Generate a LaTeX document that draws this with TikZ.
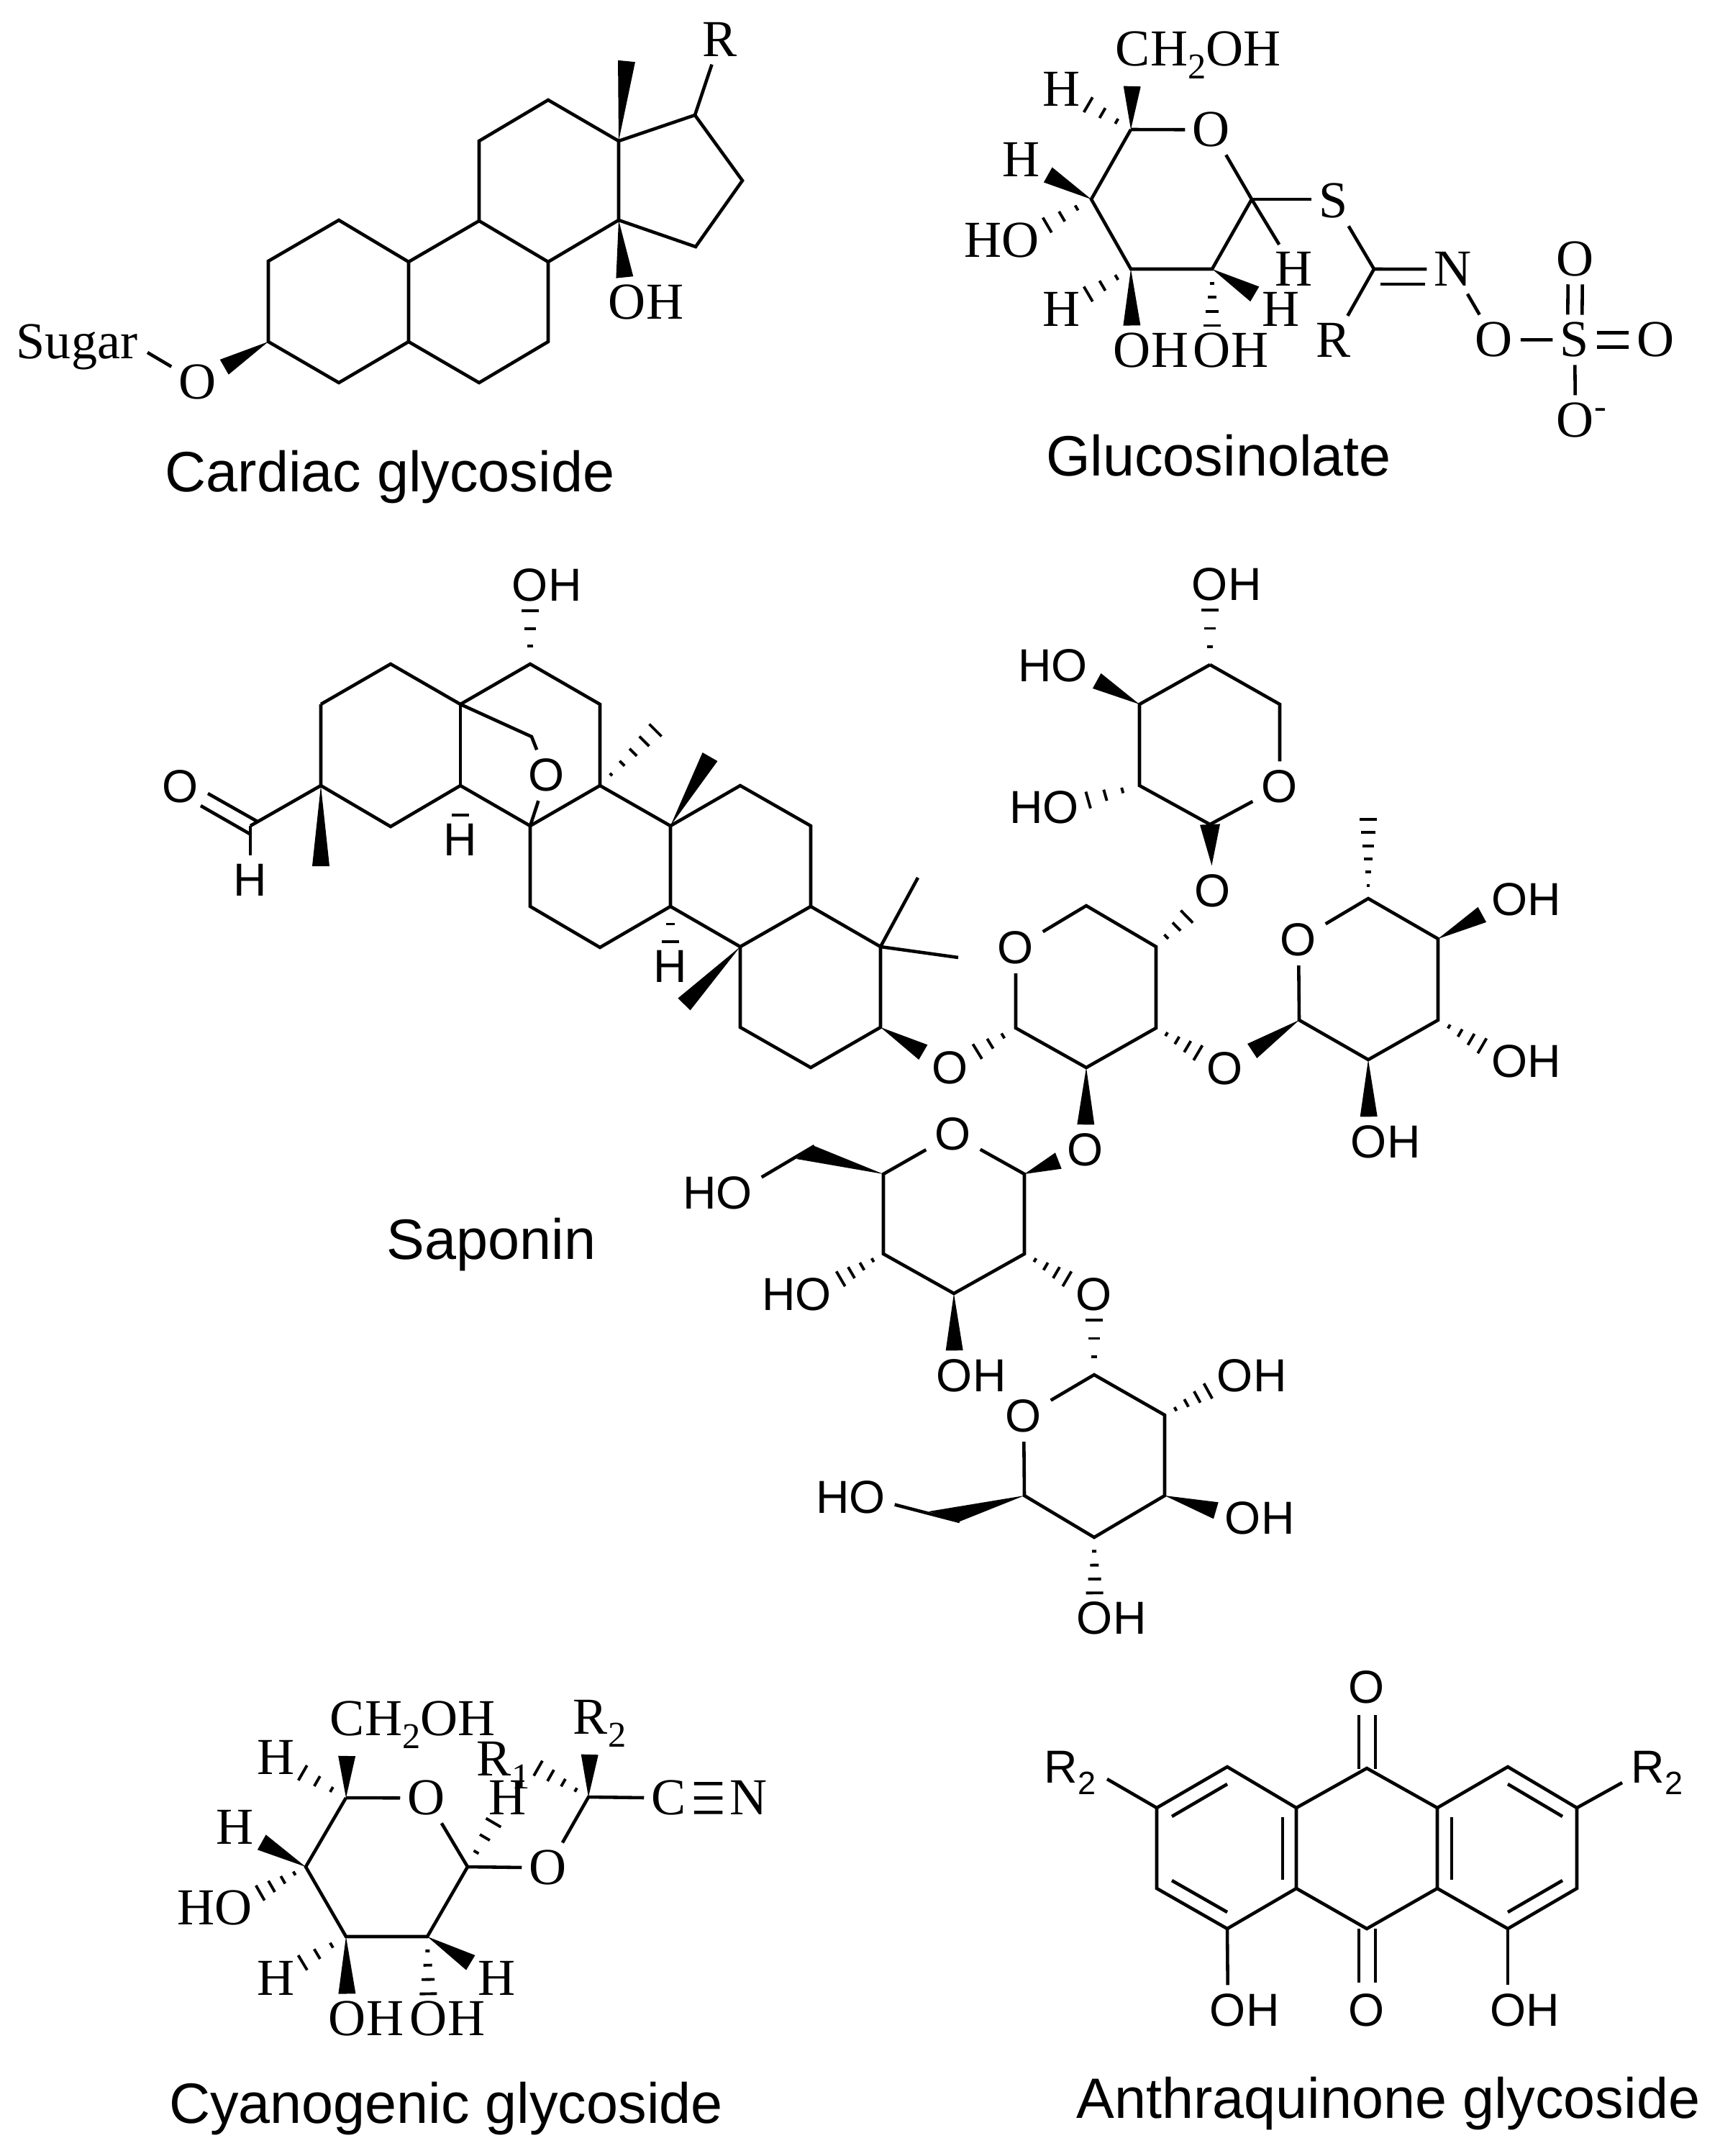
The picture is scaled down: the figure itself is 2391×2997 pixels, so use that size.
\documentclass[tikz,border=0pt]{standalone}
\usepackage{fontspec}
\setmainfont{Liberation Sans}
\newfontfamily\srf{Liberation Serif}
\usetikzlibrary{calc}
\tikzset{
  bnd/.style={line width=1.3pt,line join=miter,line cap=butt},
  hashline/.style={line width=1.1pt},
  slab/.style={font=\srf\fontsize{20.5}{24}\selectfont,inner sep=2.85pt,anchor=base,yshift=-6.8pt},
  alab/.style={font=\fontsize{18.3}{21}\selectfont,inner sep=3.4pt,anchor=base,yshift=-6.5pt},
  capt/.style={font=\fontsize{22.5}{26}\selectfont,inner sep=0pt,anchor=base}
}
\newcommand\sbs[1]{\raisebox{-.24em}{\scalebox{.7}{#1}}}
\newcommand\atoms[1]{\foreach \n/\x/\y in {#1}{\coordinate (\n) at (\x,\y);}}
\newcommand\wdg[3][12]{%
  \path (#2) -- (#3) coordinate[pos=0] (ws) coordinate[pos=1] (we);
  \fill (ws) -- ($(we)!#1*0.2845pt!90:(ws)$) -- ($(we)!#1*0.2845pt!-90:(ws)$) -- cycle;}
\newcommand\hsh[3][3]{%
  \path (#2) -- (#3) coordinate[pos=0] (ws) coordinate[pos=1] (we);
  \foreach \i in {1,...,#1}{%
    \pgfmathsetmacro\tt{\i/#1}%
    \pgfmathsetmacro\hw{12*\tt*0.2845}%
    \draw[hashline] ($(ws)!\tt!(we)!\hw pt!90:(ws)$) -- ($(ws)!\tt!(we)!\hw pt!-90:(ws)$);
  }}
\newcommand\dbl[3][10]{%
  \path (#2) -- (#3) coordinate[pos=0] (ws) coordinate[pos=1] (we);
  \draw[bnd] ($(ws)!#1*0.2845pt!90:(we)$) -- ($(we)!#1*0.2845pt!-90:(ws)$);
  \draw[bnd] ($(ws)!#1*0.2845pt!-90:(we)$) -- ($(we)!#1*0.2845pt!90:(ws)$);}
\begin{document}
\begin{tikzpicture}[x=0.01cm,y=-0.01cm]
\useasboundingbox (0,0) rectangle (2391,2997);
\fill[white] (0,0) rectangle (2391,2997);

% ---------- Cardiac glycoside ----------
\atoms{sa1/373/363,sa2/471/306,sa3/568/364,sa4/568/475,sa5/471/532,sa6/373/475,
  sb1/666/307,sb2/762/364,sb3/762/475,sb4/666/532,
  sc1/666/196,sc2/762/139,sc3/860/196,sc4/860/306,
  sd1/966/160,sd2/1032/251,sd3/967/343,sm/871/85,sugE/205/490}
\draw[bnd] (sa1) -- (sa2) -- (sa3) -- (sa4) -- (sa5) -- (sa6) -- cycle;
\draw[bnd] (sa3) -- (sb1) -- (sb2) -- (sb3) -- (sb4) -- (sa4);
\draw[bnd] (sb1) -- (sc1) -- (sc2) -- (sc3) -- (sc4) -- (sb2);
\draw[bnd] (sc3) -- (sd1) -- (sd2) -- (sd3) -- (sc4);
\node[slab] (sR) at (1001,55) {R};
\node[slab] (sOH) at (872,420) {O\rlap{H}};
\node[slab] (sO) at (275,531) {O};
\node[slab,inner sep=0pt] (sug) at (107,475) {Sugar};
\draw[bnd] (sd1) -- (sR);
\draw[bnd] (sugE) -- (sO);
\wdg{sc3}{sm}
\wdg{sc4}{sOH}
\wdg{sa6}{sO}
\node[capt] (capC) at (542,683) {Cardiac glycoside};

% ---------- Glucosinolate ----------
\atoms{gc5/1572/180,gc1/1740/277,gc2/1685/374,gc3/1572/374,gc4/1517/277,
  gt/1910/374,gdA/1919/395,gdB/1981/395}
\node[slab] (gO) at (1684,180) {O};
\node[slab] (gCH) at (1575,68) {C\rlap{H\sbs{2}OH}};
\node[slab] (gH1) at (1476,124) {H};
\node[slab] (gH2) at (1420,222) {H};
\node[slab] (gHO) at (1419,334) {\llap{H}O};
\node[slab] (gH3) at (1476,430) {H};
\node[slab] (gOH1) at (1574,487) {O\rlap{H}};
\node[slab] (gOH2) at (1685,487) {O\rlap{H}};
\node[slab] (gH4) at (1781,430) {H};
\node[slab] (gH5) at (1799,374) {H};
\node[slab] (gS) at (1854,279) {S};
\node[slab] (gN) at (2020,374) {N};
\node[slab] (gR) at (1854,473) {R};
\node[slab] (gO2) at (2077,472) {O};
\node[slab] (gS2) at (2189,472) {S};
\node[slab] (gO3) at (2301,472) {O};
\node[slab] (gO4) at (2190,360) {O};
\node[slab] (gO5) at (2190,584) {O\rlap{\textsuperscript{-}}};
\draw[bnd] (gc5) -- (gO) -- (gc1) -- (gc2) -- (gc3) -- (gc4) -- (gc5);
\draw[bnd] (gc1) -- (gH5);
\draw[bnd] (gc1) -- (gc1 -| gS.west);
\draw[bnd] (gS) -- (gt) -- (gN);
\draw[bnd] (gdA) -- (gdB);
\draw[bnd] (gt) -- (gR);
\draw[bnd] (gN) -- (gO2) -- (gS2);
\draw[bnd] (gS2) -- (gO5);
\dbl{gS2}{gO3}
\dbl{gS2}{gO4}
\wdg{gc5}{gCH}
\hsh{gc5}{gH1}
\wdg{gc4}{gH2}
\hsh{gc4}{gHO}
\hsh{gc3}{gH3}
\wdg{gc3}{gOH1}
\hsh[4]{gc2}{gOH2}
\wdg{gc2}{gH4}
\node[capt] (capG) at (1694,661) {Glucosinolate};

% ---------- Saponin aglycone ----------
\atoms{a1/446/979,a2/543/923,a3/640/979,a4/737/923,a5/834/979,a6/834/1092,a7/737/1148,
  a8/640/1092,a9/543/1149,a10/446/1092,a11/348/1148,
  brg/739/1024,dA1/358/1142,dA2/289/1103,dB1/347/1159,dB2/279/1120,
  am1/446/1204,am2/911/1015,
  b1/932/1148,b2/1029/1092,b3/1127/1148,b4/1127/1260,b5/1029/1316,b6/932/1260,b7/834/1317,b8/737/1260,
  bm1/987/1052,bm2/951/1396,
  c1/1029/1428,c2/1127/1484,c3/1224/1428,c4/1224/1316,cm1/1276/1220,cm2/1332/1331}
\draw[bnd] (a1) -- (a2) -- (a3) -- (a4) -- (a5) -- (a6) -- (a7);
\draw[bnd] (a1) -- (a10) -- (a9) -- (a8) -- (a7);
\draw[bnd] (a3) -- (a8);
\draw[bnd] (a10) -- (a11);
\draw[bnd] (a6) -- (b1) -- (b2) -- (b3) -- (b4) -- (b5) -- (b6) -- (b1);
\draw[bnd] (b6) -- (b7) -- (b8) -- (a7);
\draw[bnd] (b5) -- (c1) -- (c2) -- (c3) -- (c4) -- (b4);
\draw[bnd] (c4) -- (cm1);
\draw[bnd] (c4) -- (cm2);
\node[alab] (aOH) at (737,813) {O\rlap{H}};
\node[alab] (aO1) at (251,1093) {O};
\node[alab] (aH1) at (348,1223) {H};
\node[alab] (aH2) at (640,1167) {H};
\node[alab] (aO2) at (760,1077) {O};
\node[alab] (aH3) at (932,1343) {H};
\node[alab] (aO3) at (1321,1484) {O};
\draw[bnd] (a3) -- (brg) -- (aO2) -- (a7);
\draw[bnd] (dA1) -- (dA2);
\draw[bnd] (dB1) -- (dB2);
\draw[bnd] (a11) -- (aH1);
\hsh{a4}{aOH}
\wdg{a10}{am1}
\hsh[1]{a8}{aH2}
\hsh[5]{a6}{am2}
\wdg{b1}{bm1}
\hsh[2]{b6}{aH3}
\wdg{b5}{bm2}
\wdg{c3}{aO3}

% ---------- Upper sugar ----------
\atoms{e1/1682/924,e2/1779/979,e4/1682/1146,e5/1584/1092,e6/1584/979}
\node[alab] (eO) at (1779,1093) {O};
\node[alab] (eOH) at (1682,812) {O\rlap{H}};
\node[alab] (eHO1) at (1487,925) {\llap{H}O};
\node[alab] (eHO2) at (1475,1122) {\llap{H}O};
\node[alab] (eO2) at (1686,1238) {O};
\draw[bnd] (e1) -- (e2) -- (eO) -- (e4) -- (e5) -- (e6) -- (e1);
\hsh{e1}{eOH}
\wdg{e6}{eHO1}
\hsh{e5}{eHO2}
\wdg[14]{eO2}{e4}

% ---------- Middle sugar ----------
\atoms{d1/1412/1429,d2/1510/1484,d3/1607/1429,d4/1607/1316,d5/1510/1259}
\node[alab] (dO) at (1412,1317) {O};
\node[alab] (dO2) at (1703,1485) {O};
\node[alab] (dO3) at (1509,1598) {O};
\draw[bnd] (dO) -- (d1) -- (d2) -- (d3) -- (d4) -- (d5) -- (dO);
\hsh{d1}{aO3}
\hsh{d4}{eO2}
\hsh[4]{d3}{dO2}
\wdg{d2}{dO3}

% ---------- Right sugar ----------
\atoms{f1/1902/1249,f2/1999/1305,f3/1999/1418,f4/1902/1473,f5/1806/1418,fm/1902/1139}
\node[alab] (fO) at (1805,1306) {O};
\node[alab] (fOH1) at (2098,1250) {O\rlap{H}};
\node[alab] (fOH2) at (2098,1475) {O\rlap{H}};
\node[alab] (fOH3) at (1903,1587) {O\rlap{H}};
\draw[bnd] (fO) -- (f1) -- (f2) -- (f3) -- (f4) -- (f5) -- (fO);
\hsh[6]{f1}{fm}
\wdg{f2}{fOH1}
\hsh[4]{f3}{fOH2}
\wdg{f4}{fOH3}
\wdg{f5}{dO2}

% ---------- Lower-left sugar ----------
\atoms{k1/1424/1632,k2/1424/1743,k3/1326/1798,k4/1228/1743,k5/1228/1632,kp1/1132/1593,kp2/1107/1611}
\node[alab] (kO) at (1325,1576) {O};
\node[alab] (kHO1) at (1021,1658) {\llap{H}O};
\node[alab] (kHO2) at (1131,1799) {\llap{H}O};
\node[alab] (kOH) at (1327,1912) {O\rlap{H}};
\node[alab] (kO2) at (1521,1799) {O};
\draw[bnd] (kO) -- (k1) -- (k2) -- (k3) -- (k4) -- (k5) -- (kO);
\draw[bnd] (kp1) -- (kHO1);
\fill (k5) -- (kp1) -- (kp2) -- cycle;
\wdg{k1}{dO3}
\hsh[4]{k4}{kHO2}
\wdg{k3}{kOH}
\hsh[4]{k2}{kO2}

% ---------- Bottom sugar ----------
\atoms{h1/1521/1911,h2/1619/1967,h3/1619/2079,h4/1521/2137,h5/1424/2079,hp1/1334/2115,hp2/1291/2101}
\node[alab] (hO) at (1423,1968) {O};
\node[alab] (hOH1) at (1717,1912) {O\rlap{H}};
\node[alab] (hOH2) at (1728,2110) {O\rlap{H}};
\node[alab] (hOH3) at (1522,2249) {O\rlap{H}};
\node[alab] (hHO) at (1206,2081) {\llap{H}O};
\draw[bnd] (hO) -- (h1) -- (h2) -- (h3) -- (h4) -- (h5) -- (hO);
\draw[bnd] (hp1) -- (hHO);
\fill (h5) -- (hp1) -- (hp2) -- cycle;
\hsh{h1}{kO2}
\hsh[4]{h2}{hOH1}
\wdg{h3}{hOH2}
\hsh[4]{h4}{hOH3}
\node[capt] (capS) at (683,1750) {Saponin};

% ---------- Cyanogenic glycoside ----------
\atoms{i1/481/2499,i2/650/2595,i3/594/2692,i4/481/2692,i5/425/2595,j1/818/2498,jR/748/2458}
\node[slab] (iO) at (593,2499) {O};
\node[slab] (iCH) at (483,2389) {C\rlap{H\sbs{2}OH}};
\node[slab] (iH1) at (384,2443) {H};
\node[slab] (iH2) at (327,2540) {H};
\node[slab] (iHO) at (325,2652) {\llap{H}O};
\node[slab] (iH3) at (384,2750) {H};
\node[slab] (iOH1) at (483,2806) {O\rlap{H}};
\node[slab] (iOH2) at (596,2806) {O\rlap{H}};
\node[slab] (iH4) at (691,2750) {H};
\node[slab] (iH5) at (706,2499) {H};
\node[slab] (iR1) at (687,2445) {R\rlap{\sbs{1}}};
\node[slab] (iR2) at (821,2387) {R\rlap{\sbs{2}}};
\node[slab] (iO2) at (762,2596) {O};
\node[slab] (iC) at (930,2499) {C};
\node[slab] (iN) at (1041,2499) {N};
\draw[bnd] (i1) -- (iO) -- (i2) -- (i3) -- (i4) -- (i5) -- (i1);
\draw[bnd] (i2) -- (iO2) -- (j1) -- (iC);
\draw[bnd] (iC) -- (iN);
\dbl[20]{iC}{iN}
\wdg{i1}{iCH}
\hsh{i1}{iH1}
\wdg{i5}{iH2}
\hsh[4]{i5}{iHO}
\hsh{i4}{iH3}
\wdg{i4}{iOH1}
\hsh[4]{i3}{iOH2}
\wdg{i3}{iH4}
\hsh{i2}{iH5}
\wdg{j1}{iR2}
\hsh[4]{j1}{jR}
\node[capt] (capY) at (620,2951) {Cyanogenic glycoside};

% ---------- Anthraquinone glycoside ----------
\atoms{q1/1900/2458,q2/1998/2513,q3/1998/2625,q4/1900/2681,q5/1802/2625,q6/1802/2513,
  l1/1706/2456,l2/1608/2513,l3/1608/2625,l4/1706/2681,
  r1/2096/2456,r2/2192/2513,r3/2192/2625,r4/2096/2681,
  la1/1629/2525,la2/1706/2480,lb1/1629/2614,lb2/1706/2658,lc1/1783/2526,lc2/1783/2613,
  ra1/2096/2480,ra2/2172/2525,rb1/2096/2658,rb2/2172/2614,rc1/2018/2526,rc2/2018/2613,
  lR/1539/2473,rR/2255/2478,
  qa1/1889/2384,qa2/1889/2459,qb1/1912/2384,qb2/1912/2459,
  qc1/1889/2681,qc2/1889/2756,qd1/1912/2681,qd2/1912/2756}
\node[alab] (qO1) at (1900,2345) {O};
\node[alab] (qO2) at (1900,2794) {O};
\node[alab] (qOH1) at (1707,2794) {O\rlap{H}};
\node[alab] (qOH2) at (2096,2794) {O\rlap{H}};
\node[alab] (qR1) at (1475,2456) {R\rlap{\sbs{2}}};
\node[alab] (qR2) at (2291,2456) {R\rlap{\sbs{2}}};
\draw[bnd] (q1) -- (q2) -- (q3) -- (q4) -- (q5) -- (q6) -- cycle;
\draw[bnd] (q6) -- (l1) -- (l2) -- (l3) -- (l4) -- (q5);
\draw[bnd] (q2) -- (r1) -- (r2) -- (r3) -- (r4) -- (q3);
\draw[bnd] (la1) -- (la2);
\draw[bnd] (lb1) -- (lb2);
\draw[bnd] (lc1) -- (lc2);
\draw[bnd] (ra1) -- (ra2);
\draw[bnd] (rb1) -- (rb2);
\draw[bnd] (rc1) -- (rc2);
\draw[bnd] (l2) -- (lR);
\draw[bnd] (r2) -- (rR);
\draw[bnd] (l4) -- (qOH1);
\draw[bnd] (r4) -- (qOH2);
\draw[bnd] (qa1) -- (qa2);
\draw[bnd] (qb1) -- (qb2);
\draw[bnd] (qc1) -- (qc2);
\draw[bnd] (qd1) -- (qd2);
\node[capt] (capA) at (1930,2944) {Anthraquinone glycoside};
\end{tikzpicture}
\end{document}
